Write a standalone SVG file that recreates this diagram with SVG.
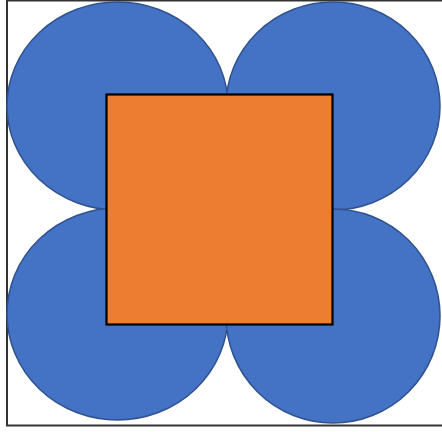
<svg xmlns="http://www.w3.org/2000/svg" width="442" height="432" viewBox="0 0 442 432">
<style>
.c{fill:#4472C4;stroke:#2F528F;stroke-width:1.5}
.sq{fill:#ED7D31;stroke:#000;stroke-width:2.2}
</style>
<rect x="0" y="0" width="442" height="432" fill="#fff"/>
<rect id="frame" x="7" y="0.5" width="440" height="425" fill="none" stroke="#333" stroke-width="2"/>
<g id="circle-tl"><ellipse class="c" cx="117.5" cy="106" rx="110.5" ry="104"/></g>
<g id="circle-tr"><ellipse class="c" cx="333" cy="106" rx="107" ry="104"/></g>
<g id="circle-bl"><ellipse class="c" cx="117.5" cy="314" rx="110.5" ry="106"/></g>
<g id="circle-br"><ellipse class="c" cx="333" cy="316" rx="107" ry="107"/></g>
<g id="square"><rect class="sq" x="106.5" y="94.5" width="226" height="230"/></g>
<g id="connectors"/>
</svg>
